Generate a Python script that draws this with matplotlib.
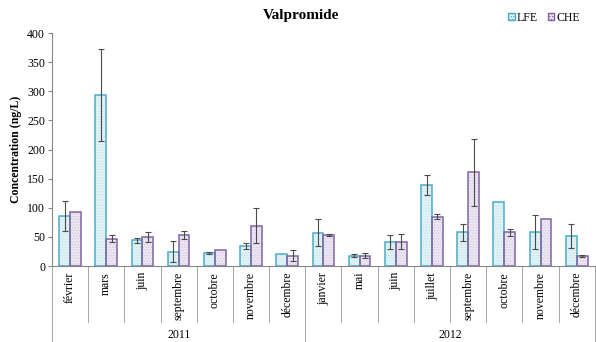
import numpy as np
import matplotlib.pyplot as plt
from matplotlib.patches import Patch

plt.rcParams['font.family'] = ['Liberation Serif', 'DejaVu Serif']
plt.rcParams['hatch.linewidth'] = 0.6

months = ["février", "mars", "juin", "septembre", "octobre", "novembre", "décembre",
          "janvier", "mai", "juin", "juillet", "septembre", "octobre", "novembre", "décembre"]
years = ["2011", "2012"]
n_2011 = 7

lfe = [86, 294, 44, 25, 22, 35, 20, 57, 18, 41, 139, 58, 110, 58, 52]
lfe_err = [25, 79, 5, 18, 2, 5, 0, 23, 3, 12, 17, 15, 0, 29, 21]
che = [92, 47, 50, 54, 28, 69, 18, 53, 18, 42, 85, 161, 58, 81, 17]
che_err = [0, 6, 9, 7, 0, 30, 9, 2, 4, 13, 5, 58, 6, 0, 2]

lfe_face, lfe_edge, lfe_hatch = "#e3f2f6", "#4bacc6", "#c2e3ec"
che_face, che_edge, che_hatch = "#ece7f2", "#8064a2", "#d3c9e0"

fig = plt.figure(figsize=(5.96, 3.42), dpi=100)
ax = fig.add_axes([0.0872, 0.222, 0.9108, 0.6813])

x = np.arange(len(months))
w = 0.3

def draw_bars(xpos, vals, errs, face, edge, hatch):
    # hatched fill first, then the outline on top
    ax.bar(xpos, vals, w, color=face, edgecolor=hatch, hatch="......", linewidth=0, zorder=2)
    ax.bar(xpos, vals, w, fill=False, edgecolor=edge, linewidth=1.1, zorder=3)
    e = np.array(errs, dtype=float)
    m = e > 0
    ax.errorbar(np.asarray(xpos)[m], np.asarray(vals)[m], yerr=e[m], fmt="none",
                ecolor="#4a4a4a", elinewidth=0.8, capsize=2.5, capthick=0.8, zorder=4)

draw_bars(x - w / 2, lfe, lfe_err, lfe_face, lfe_edge, lfe_hatch)
draw_bars(x + w / 2, che, che_err, che_face, che_edge, che_hatch)

ax.set_xlim(-0.5, len(months) - 0.5)
ax.set_ylim(0, 400)
ax.set_yticks(range(0, 401, 50))
ax.tick_params(axis="y", labelsize=8.5, length=3, width=0.8, color="#868686", pad=2)
ax.set_xticks([])
for s in ["top", "right"]:
    ax.spines[s].set_visible(False)
ax.spines["left"].set_color("#868686")
ax.spines["bottom"].set_color("#868686")
ax.set_ylabel("Concentration (ng/L)", fontsize=8.5, fontweight="bold", labelpad=4)

# month labels and separators below the axis
trans = ax.get_xaxis_transform()
for i, m in enumerate(months):
    ax.text(i, -0.025, m, rotation=90, ha="center", va="top", fontsize=8.5, transform=trans)
for b in range(1, len(months)):
    if b == n_2011:
        continue
    ax.plot([b - 0.5, b - 0.5], [0, -0.24], color="#a6a6a6", lw=0.7, transform=trans, clip_on=False)
for b in [-0.5, n_2011 - 0.5, len(months) - 0.5]:
    ax.plot([b, b], [0, -0.33], color="#a6a6a6", lw=0.7, transform=trans, clip_on=False)

ax.text((n_2011 - 1) / 2, -0.295, years[0], ha="center", va="center", fontsize=8.5, transform=trans)
ax.text((n_2011 + len(months) - 1) / 2, -0.295, years[1], ha="center", va="center", fontsize=8.5, transform=trans)

fig.text(0.505, 0.955, "Valpromide", ha="center", va="center", fontsize=11, fontweight="bold")

handles = [Patch(facecolor=lfe_face, edgecolor=lfe_edge, hatch="......"),
           Patch(facecolor=che_face, edgecolor=che_edge, hatch="......")]
fig.legend(handles, ["LFE", "CHE"], loc="center", bbox_to_anchor=(0.913, 0.948), ncol=2,
           frameon=False, fontsize=8.5, handlelength=0.55, handleheight=0.55,
           handletextpad=0.2, columnspacing=0.8)

fig.savefig("out.png", dpi=100)
